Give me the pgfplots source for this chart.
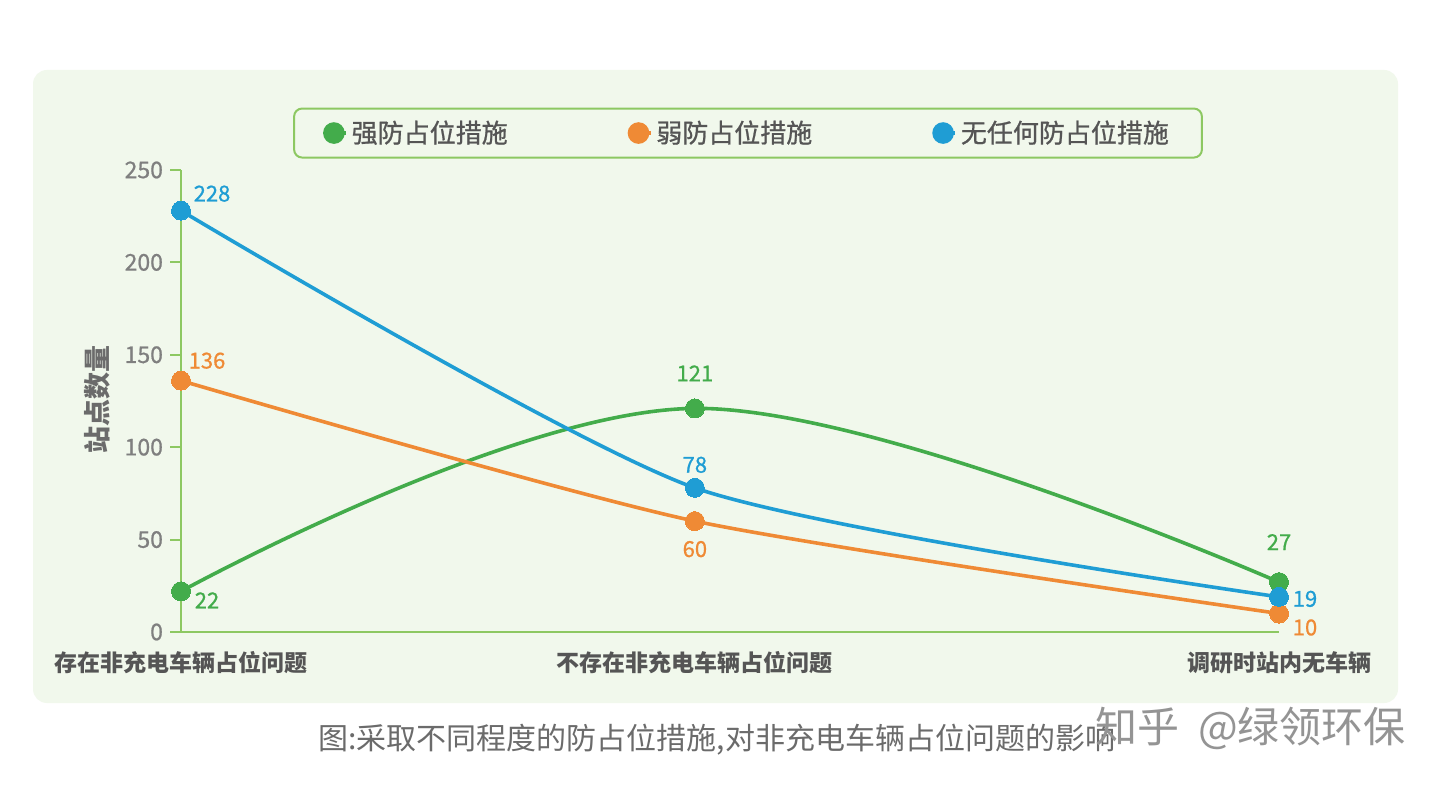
\documentclass[border=0pt]{standalone}
\usepackage{fontspec}
\setmainfont{Noto Sans CJK SC}
\newfontfamily\medfont{Noto Sans CJK SC}[FakeBold=0.8]
\usepackage{pgfplots}
\pgfplotsset{compat=1.18}
\definecolor{bgpanel}{HTML}{F1F8EC}
\definecolor{axgreen}{HTML}{8DC862}
\definecolor{cgreen}{HTML}{43AC4B}
\definecolor{corange}{HTML}{EF8A35}
\definecolor{cblue}{HTML}{1F9DD4}
\definecolor{tickgray}{HTML}{7F7F7F}
\definecolor{catgray}{HTML}{555555}
\definecolor{capgray}{HTML}{6B6B6B}
\begin{document}
\begin{tikzpicture}
\fill[white] (0,0) rectangle (720pt,-392.5pt);
\fill[bgpanel, rounded corners=7pt] (16.5pt,-35pt) rectangle (699pt,-351.5pt);
\begin{axis}[
  at={(90.5pt,-316pt)}, anchor=south west,
  scale only axis, width=549pt, height=231pt,
  xmin=0, xmax=2, ymin=0, ymax=250,
  clip=false,
  axis x line*=bottom, axis y line*=left,
  axis line style={axgreen, line width=1.1pt, -},
  tick align=outside,
  major tick length=5.5pt,
  ytick={0,50,100,150,200,250},
  ytick style={axgreen, line width=1.1pt},
  yticklabel style={font=\medfont\fontsize{11.5}{12}\selectfont, text=tickgray},
  /pgf/number format/assume math mode=true,
  xtick={0,0.936,2},
  xticklabels={存在非充电车辆占位问题, 不存在非充电车辆占位问题, 调研时站内无车辆},
  xtick style={draw=none},
  xticklabel style={font=\fontsize{11.5}{12}\selectfont\bfseries, text=catgray, anchor=center, yshift=-10pt},
  legend columns=3,
  legend style={at={(axis description cs:0.5164,1.080)}, anchor=center,
    draw=axgreen, line width=1pt, fill=bgpanel, rounded corners=4pt,
    font=\medfont\fontsize{13}{13.5}\selectfont, text=catgray,
    inner xsep=14.5pt, inner ysep=4pt,
    /tikz/every even column/.append style={column sep=58pt}},
  legend image code/.code={\fill[#1] (4.5pt,0pt) circle (4.5pt); \path (0pt,0pt) -- (10.5pt,0pt);},
]
\addplot[cgreen, line width=1.8pt, smooth, tension=0.6, mark=*, mark size=4.75pt, mark options={fill=cgreen, draw=cgreen, line width=0pt}] coordinates {(0,22) (0.936,121) (2,27)};
\addlegendentry{强防占位措施}
\addplot[corange, line width=1.8pt, smooth, tension=0.4, mark=*, mark size=4.75pt, mark options={fill=corange, draw=corange, line width=0pt}] coordinates {(0,136) (0.936,60) (2,10)};
\addlegendentry{弱防占位措施}
\addplot[cblue, line width=1.8pt, smooth, tension=0.4, mark=*, mark size=4.75pt, mark options={fill=cblue, draw=cblue, line width=0pt}] coordinates {(0,228) (0.936,78) (2,19)};
\addlegendentry{无任何防占位措施}
\begin{scope}[font=\medfont\fontsize{11}{12}\selectfont]
\node[text=cblue, xshift=15.5pt, yshift=8.5pt] at (axis cs:0,228) {228};
\node[text=corange, xshift=13pt, yshift=10pt] at (axis cs:0,136) {136};
\node[text=cgreen, xshift=13pt, yshift=-4.5pt] at (axis cs:0,22) {22};
\node[text=cgreen, yshift=17.5pt] at (axis cs:0.936,121) {121};
\node[text=cblue, yshift=11.5pt] at (axis cs:0.936,78) {78};
\node[text=corange, yshift=-14pt] at (axis cs:0.936,60) {60};
\node[text=cgreen, yshift=20pt] at (axis cs:2,27) {27};
\node[text=cblue, xshift=13pt, yshift=-1pt] at (axis cs:2,19) {19};
\node[text=corange, xshift=13pt, yshift=-7pt] at (axis cs:2,10) {10};
\end{scope}
\end{axis}
\node[rotate=90, text=capgray, font=\fontsize{13.5}{14}\selectfont\bfseries] at (48.5pt,-200pt) {站点数量};
\node[anchor=west, text=capgray, font=\fontsize{15}{16}\selectfont, inner sep=0pt] at (159pt,-370pt) {图:采取不同程度的防占位措施,对非充电车辆占位问题的影响};
\node[anchor=west, text=black!42, font=\fontsize{21}{22}\selectfont, inner sep=0pt] at (547.5pt,-364pt) {知乎\ \ @绿领环保};
\pgfresetboundingbox
\useasboundingbox (0,0) rectangle (720pt,-392.5pt);
\end{tikzpicture}
\end{document}
